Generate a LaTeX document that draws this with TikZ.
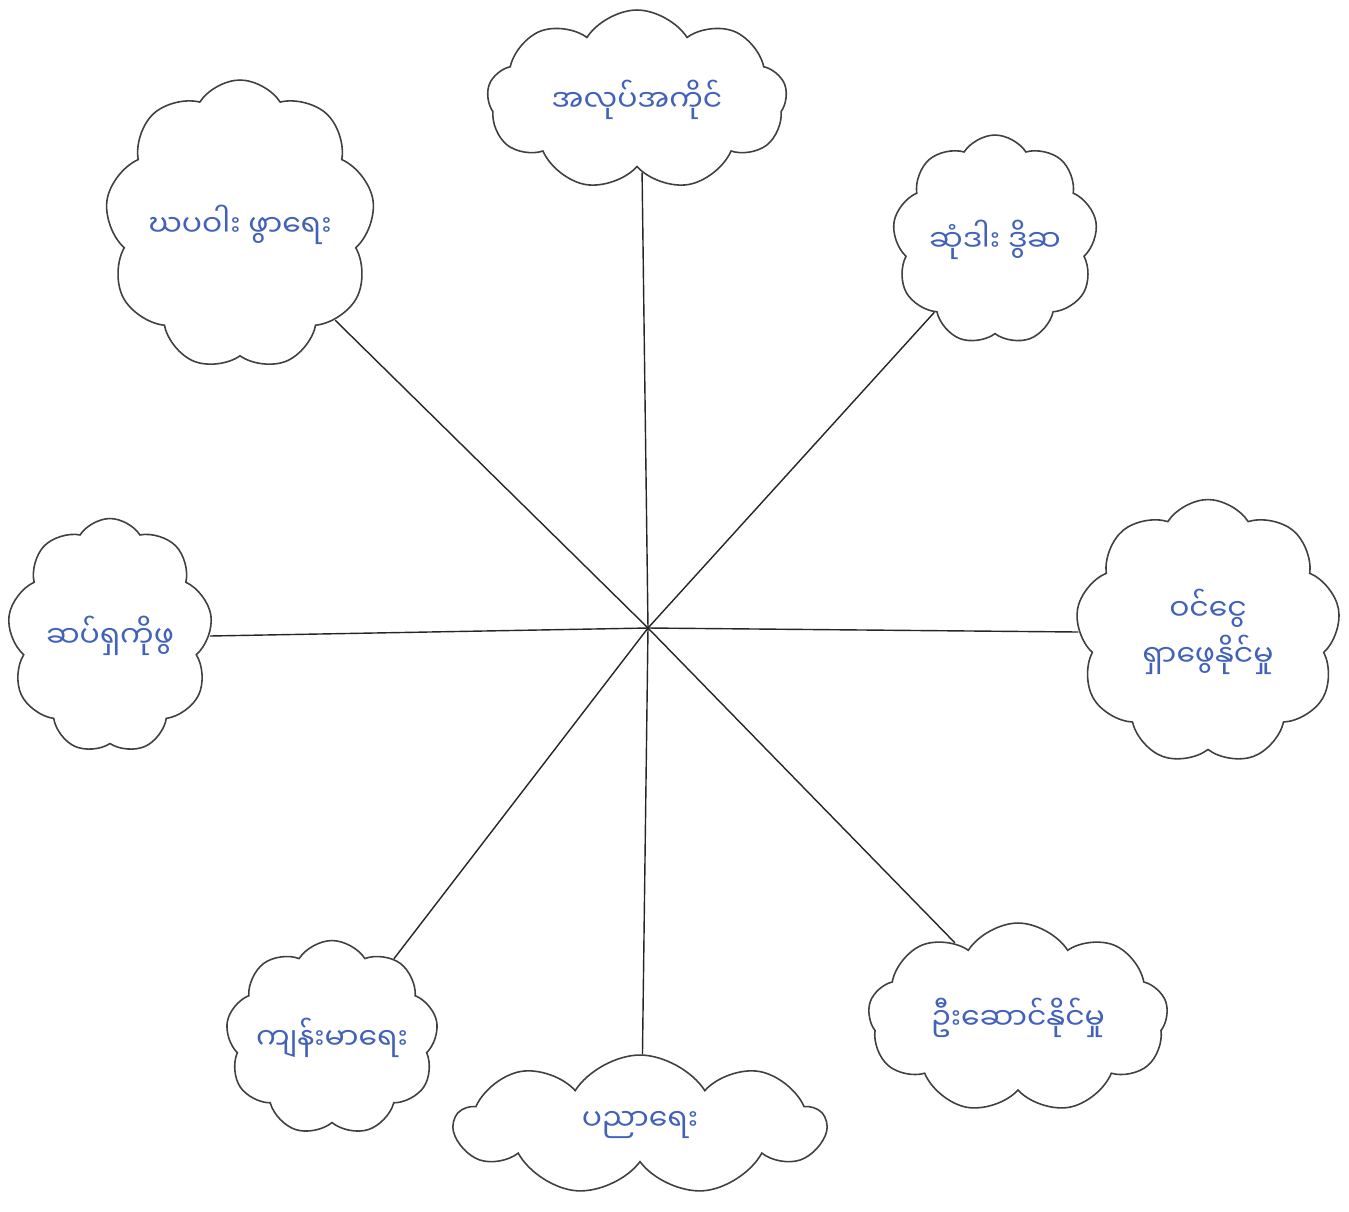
\documentclass[tikz,border=0pt]{standalone}
\usepackage{fontspec}
\usepackage{tikz}
\usetikzlibrary{shapes.symbols}
\newfontfamily\mmfont[Script=Myanmar]{Noto Sans Myanmar UI}
\definecolor{inkblue}{RGB}{66,98,186}

\begin{document}
\begin{tikzpicture}[x=0.02cm,y=-0.02cm,
    puff/.style={cloud,cloud puffs=9,cloud puff arc=115,cloud ignores aspect,
      draw=black!75,line width=0.9pt,text=inkblue,align=center,inner sep=0pt,
      font=\mmfont\fontsize{17}{26}\selectfont},
    spoke/.style={black!85,line width=0.8pt}]
  \useasboundingbox (0,0) rectangle (1349,1211);
  \fill[white] (0,0) rectangle (1349,1211);
  \coordinate (hub) at (648,628);
  % clouds, clockwise from the top
  \node[puff,minimum width=6cm,minimum height=3.6cm] (work) at (637,100) {အလုပ်အကိုင်};
  \node[puff,minimum width=4.1cm,minimum height=4.2cm] (mind) at (995,240) {ဆုံဒါး ဒွိဆ};
  \node[puff,minimum width=5.3cm,minimum height=5.3cm] (income) at (1208,632) {ဝင်ငွေ\\ရှာဖွေနိုင်မှု};
  \node[puff,minimum width=6cm,minimum height=3.8cm] (lead) at (1018,1018) {ဦးဆောင်နိုင်မှု};
  \node[puff,minimum width=7.4cm,minimum height=2.8cm] (study) at (640,1125) {ပညာရေး};
  \node[puff,minimum width=4cm,minimum height=3.9cm] (health) at (332,1038) {ကျန်းမာရေး};
  \node[puff,minimum width=4.1cm,minimum height=4.7cm] (skill) at (110,636) {ဆပ်ရှကိုဖွ};
  \node[puff,minimum width=5.4cm,minimum height=5.8cm] (life) at (240,225) {ဃပဝါး ဖွာရေး};
  % spokes
  \foreach \c/\a in {work/-86,mind/-130,income/180,lead/130,study/88,health/52,skill/0,life/-45}
    \draw[spoke] (hub) -- (\c.\a);
\end{tikzpicture}
\end{document}
